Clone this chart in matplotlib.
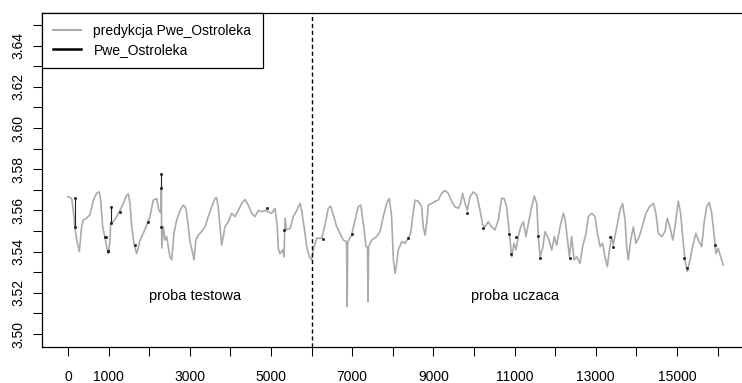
import numpy as np
import matplotlib

matplotlib.use("Agg")
import matplotlib.pyplot as plt
from matplotlib.lines import Line2D
from matplotlib.ticker import FixedLocator

plt.rcParams["font.family"] = ["Liberation Sans", "DejaVu Sans"]

# predykcja Pwe_Ostroleka
pred_x = [0, 90, 130, 170, 215, 280, 335, 375, 460, 540, 625, 705, 770, 805, 855, 910, 950, 995,
          1035, 1050, 1115, 1200, 1280, 1365, 1445, 1487, 1527, 1570, 1625, 1690, 1730, 1775, 1855,
          1955, 2020, 2100, 2185, 2240, 2290, 2300, 2310, 2350, 2390, 2430, 2470, 2510, 2555, 2610,
          2677, 2760, 2840, 2905, 2965, 3005, 3045, 3105, 3150, 3210, 3290, 3375, 3455, 3540, 3620,
          3660, 3700, 3745, 3785, 3825, 3865, 3950, 4030, 4115, 4195, 4280, 4360, 4440, 4525, 4605,
          4690, 4770, 4850, 4935, 5015, 5100, 5155, 5180, 5220, 5290, 5320, 5345, 5385, 5470, 5550,
          5635, 5715, 5755, 5815, 5880, 5945, 6000, 6040, 6125, 6250, 6330, 6410, 6470, 6535, 6620,
          6700, 6780, 6860, 6875, 6890, 6985, 7070, 7150, 7210, 7275, 7340, 7375, 7390, 7405, 7480,
          7600, 7685, 7765, 7850, 7915, 7970, 8015, 8055, 8095, 8135, 8220, 8300, 8380, 8440, 8490,
          8545, 8630, 8710, 8750, 8795, 8835, 8875, 8960, 9040, 9120, 9205, 9285, 9365, 9450, 9530,
          9615, 9670, 9720, 9780, 9835, 9900, 9985, 10065, 10150, 10215, 10270, 10350, 10435, 10515,
          10600, 10680, 10740, 10805, 10870, 10930, 10985, 11035, 11090, 11150, 11215, 11280, 11340,
          11420, 11485, 11545, 11585, 11625, 11690, 11750, 11830, 11915, 11980, 12035, 12120, 12200,
          12240, 12285, 12350, 12405, 12465, 12530, 12610, 12675, 12760, 12815, 12900, 12980, 13040,
          13105, 13170, 13225, 13285, 13335, 13390, 13430, 13515, 13595, 13660, 13720, 13760, 13800,
          13860, 13925, 13990, 14070, 14155, 14235, 14320, 14420, 14480, 14540, 14625, 14705, 14760,
          14825, 14895, 14950, 15030, 15090, 15140, 15195, 15255, 15320, 15385, 15465, 15525, 15610,
          15665, 15730, 15795, 15855, 15910, 15960, 16015, 16075, 16140]
pred_y = [3.5667, 3.5658, 3.560, 3.552, 3.5456, 3.540, 3.552, 3.5553, 3.5563, 3.5578, 3.565, 3.5683,
          3.569, 3.565, 3.552, 3.547, 3.5424, 3.539, 3.5456, 3.5537, 3.5545, 3.557, 3.560, 3.5634,
          3.5675, 3.568, 3.5634, 3.552, 3.544, 3.539, 3.5416, 3.5456, 3.5489, 3.5537, 3.557, 3.565,
          3.5658, 3.560, 3.5587, 3.5709, 3.5417, 3.552, 3.5456, 3.5473, 3.5424, 3.5375, 3.536,
          3.5489, 3.5553, 3.560, 3.5626, 3.561, 3.552, 3.5448, 3.5416, 3.536, 3.5456, 3.548, 3.5497,
          3.552, 3.557, 3.5618, 3.5658, 3.5663, 3.5618, 3.552, 3.5432, 3.5473, 3.552, 3.5545, 3.5586,
          3.557, 3.560, 3.5634, 3.5653, 3.5626, 3.5586, 3.557, 3.560, 3.5594, 3.560, 3.5594, 3.5586,
          3.561, 3.552, 3.5416, 3.539, 3.5408, 3.5375, 3.5562, 3.5505, 3.5513, 3.557, 3.560, 3.5634,
          3.560, 3.552, 3.5424, 3.5375, 3.536, 3.5408, 3.5465, 3.5465, 3.5529, 3.561, 3.5621, 3.5578,
          3.552, 3.5489, 3.5456, 3.5448, 3.5133, 3.5448, 3.548, 3.5553, 3.5618, 3.5626, 3.5537,
          3.5424, 3.5424, 3.5157, 3.5424, 3.5456, 3.5473, 3.5497, 3.557, 3.5634, 3.5658, 3.557,
          3.536, 3.5294, 3.5343, 3.5408, 3.5448, 3.544, 3.5465, 3.5489, 3.557, 3.565, 3.5644, 3.5618,
          3.552, 3.548, 3.5537, 3.5626, 3.5634, 3.5644, 3.565, 3.5683, 3.5697, 3.5683, 3.5644,
          3.5618, 3.561, 3.5634, 3.5683, 3.5634, 3.560, 3.5667, 3.569, 3.5675, 3.560, 3.5529, 3.552,
          3.5545, 3.552, 3.5505, 3.5553, 3.5658, 3.5658, 3.5618, 3.5489, 3.5375, 3.544, 3.5408,
          3.5473, 3.552, 3.5545, 3.5473, 3.5537, 3.5618, 3.567, 3.5634, 3.5473, 3.5375, 3.5416,
          3.5497, 3.5465, 3.5408, 3.5473, 3.5432, 3.552, 3.5586, 3.5562, 3.5489, 3.5375, 3.5473,
          3.536, 3.5375, 3.5343, 3.5424, 3.5489, 3.557, 3.5586, 3.557, 3.5489, 3.5424, 3.544,
          3.5375, 3.5327, 3.5408, 3.5473, 3.5432, 3.552, 3.560, 3.5634, 3.5553, 3.5424, 3.536,
          3.5456, 3.552, 3.544, 3.5473, 3.5529, 3.5586, 3.5618, 3.5634, 3.5586, 3.5489, 3.5473,
          3.5497, 3.5562, 3.552, 3.5456, 3.552, 3.5644, 3.5586, 3.5473, 3.536, 3.5303, 3.536,
          3.5424, 3.5489, 3.5456, 3.5424, 3.5537, 3.5618, 3.5639, 3.5586, 3.5489, 3.539, 3.5416,
          3.5375, 3.5335]

# Pwe_Ostroleka: widoczne tylko fragmenty (reszta zakryta predykcja), nan = przerwa
obs_x = [170, 170, np.nan, 910, 930, np.nan, 975, 995, np.nan, 1060, 1060, np.nan, 1280, np.nan,
         1650, np.nan, 1980, np.nan, 2280, np.nan, 2300, 2300, np.nan, 4895, np.nan, 5320, np.nan,
         6270, np.nan, 6985, np.nan, 8380, np.nan, 9835, np.nan, 10230, np.nan, 10870, np.nan,
         10900, np.nan, 11025, np.nan, 11570, np.nan, 11625, np.nan, 12365, np.nan, 13350, np.nan,
         13415, np.nan, 15170, np.nan, 15240, np.nan, 15935]
obs_y = [3.5662, 3.5518, np.nan, 3.547, 3.547, np.nan, 3.5405, 3.5405, np.nan, 3.5618, 3.5537,
         np.nan, 3.5594, np.nan, 3.5432, np.nan, 3.5542, np.nan, 3.552, np.nan, 3.5709, 3.5777,
         np.nan, 3.561, np.nan, 3.5505, np.nan, 3.5461, np.nan, 3.5485, np.nan, 3.5465, np.nan,
         3.5586, np.nan, 3.5513, np.nan, 3.5485, np.nan, 3.5388, np.nan, 3.5473, np.nan, 3.5476,
         np.nan, 3.537, np.nan, 3.5367, np.nan, 3.5473, np.nan, 3.5424, np.nan, 3.5367, np.nan,
         3.5318, np.nan, 3.5432]

split_x = 6000
x_ticks = list(range(0, 17000, 1000))
x_labels = ["0", "1000", "", "3000", "", "5000", "", "7000", "", "9000", "", "11000", "",
            "13000", "", "15000", ""]
y_major = [3.50, 3.52, 3.54, 3.56, 3.58, 3.60, 3.62, 3.64]
y_minor = [3.51, 3.53, 3.55, 3.57, 3.59, 3.61, 3.63, 3.65]

GRAY = "#ababab"

fig = plt.figure(figsize=(7.42, 3.83), dpi=100)
ax = fig.add_axes([42 / 742, 36 / 383, 707 / 742, 334 / 383])

ax.plot(pred_x, pred_y, color=GRAY, lw=1.2, zorder=2)
ax.plot(obs_x, obs_y, color="#222222", lw=0.8, marker="s", ms=1.0, zorder=3)
ax.axvline(split_x, color="black", lw=1.0, ls=(0, (3, 2)), zorder=4)

ax.text(3128, 3.5184, "proba testowa", ha="center", va="center", fontsize=10.5)
ax.text(11010, 3.5184, "proba uczaca", ha="center", va="center", fontsize=10.5)

ax.set_xlim(-640, 16773)
ax.set_ylim(3.49369, 3.65583)

ax.xaxis.set_major_locator(FixedLocator(x_ticks))
ax.set_xticklabels(x_labels)
ax.yaxis.set_major_locator(FixedLocator(y_major))
ax.yaxis.set_minor_locator(FixedLocator(y_minor))
ax.set_yticklabels([f"{v:.2f}" for v in y_major], rotation=90, va="center")

ax.tick_params(axis="both", which="both", direction="out", length=6.5, width=0.75,
               labelsize=10, color="black")
ax.tick_params(axis="x", pad=10)
ax.tick_params(axis="y", pad=5.5)
for side in ("left", "bottom", "top"):
    ax.spines[side].set_linewidth(0.9)
ax.spines["right"].set_visible(False)

handles = [Line2D([], [], color=GRAY, lw=1.5), Line2D([], [], color="black", lw=1.8)]
leg = ax.legend(handles, ["predykcja Pwe_Ostroleka", "Pwe_Ostroleka"], loc="upper left",
                bbox_to_anchor=(0, 1), borderaxespad=0, fancybox=False, framealpha=1,
                edgecolor="black", fontsize=10, handlelength=2.0, handletextpad=0.9,
                labelspacing=0.35, borderpad=0.8)
leg.get_frame().set_linewidth(0.9)

fig.savefig("out.png", dpi=100)
